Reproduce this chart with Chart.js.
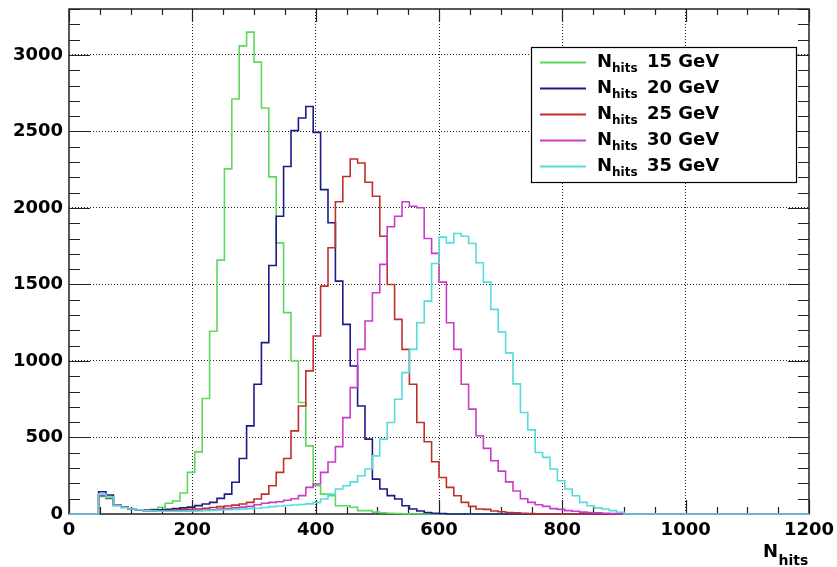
<!DOCTYPE html>
<html>
<head>
<meta charset="utf-8">
<script src="https://cdn.jsdelivr.net/npm/chart.js@4.4.1/dist/chart.umd.min.js"></script>
<style>
html,body{margin:0;padding:0;background:#fff;}
#wrap{width:837px;height:567px;}
</style>
</head>
<body>
<div id="wrap"><canvas id="chart" width="837" height="567"></canvas></div>
<script>
// histogram binning: 100 bins of width 12 from 0 to 1200
const binWidth=12;

const energies=["15 GeV","20 GeV","25 GeV","30 GeV","35 GeV"];
const colors=["#5fd85f","#1c1c86","#c0302c","#c83cc8","#55dcdc"];

const xTicks=[0,200,400,600,800,1000,1200];
const yTicks=[0,500,1000,1500,2000,2500,3000];

const h15=[
0,0,0,0,115,100,55,42,33,28,
28,30,44,70,85,137,272,406,755,1194,
1659,2255,2712,3059,3149,2953,2653,2203,1772,1316,
1000,729,445,185,130,120,54,54,44,22,
22,12,8,5,3,2,0,0,0,0,
0,0,0,0,0,0,0,0,0,0,
0,0,0,0,0,0,0,0,0,0,
0,0,0,0,0,0,0,0,0,0,
0,0,0,0,0,0,0,0,0,0,
0,0,0,0,0,0,0,0,0,0];

const h20=[
0,0,0,0,145,124,60,45,33,28,
25,25,28,30,35,40,45,55,65,76,
102,130,207,363,576,848,1120,1624,1946,2271,
2505,2588,2663,2494,2120,1903,1522,1239,967,706,
489,228,163,120,98,54,33,20,10,5,
3,0,0,0,0,0,0,0,0,0,
0,0,0,0,0,0,0,0,0,0,
0,0,0,0,0,0,0,0,0,0,
0,0,0,0,0,0,0,0,0,0,
0,0,0,0,0,0,0,0,0,0];

const h25=[
0,0,0,0,120,105,58,44,33,28,
22,20,20,22,25,28,30,33,38,42,
48,52,58,65,76,98,130,185,272,363,
543,706,935,1163,1489,1740,2040,2205,2320,2294,
2168,2076,1815,1500,1272,1076,848,598,472,341,
239,174,119,76,50,33,30,20,15,10,
8,5,3,0,0,0,0,0,0,0,
0,0,0,0,0,0,0,0,0,0,
0,0,0,0,0,0,0,0,0,0,
0,0,0,0,0,0,0,0,0,0];

const h30=[
0,0,0,0,125,108,58,44,33,28,
22,20,20,18,18,20,22,24,26,28,
32,35,40,45,50,60,70,76,80,90,
100,120,174,196,272,340,440,630,826,1076,
1261,1446,1631,1877,1946,2040,2011,2001,1800,1703,
1515,1250,1076,848,685,511,429,348,280,210,
150,100,76,60,50,35,30,22,18,12,
10,8,5,3,0,0,0,0,0,0,
0,0,0,0,0,0,0,0,0,0,
0,0,0,0,0,0,0,0,0,0];

const h35=[
0,0,0,0,130,110,55,42,33,28,
22,20,18,18,18,18,20,20,22,24,
26,28,30,32,35,38,42,48,52,56,
59,62,66,76,98,130,163,185,210,250,
294,380,489,598,750,924,1076,1250,1391,1637,
1809,1772,1833,1815,1768,1642,1515,1337,1190,1053,
850,663,550,402,370,294,217,163,119,76,
54,40,33,22,11,0,0,0,0,0,
0,0,0,0,0,0,0,0,0,0,
0,0,0,0,0,0,0,0,0,0];

const series=[h15,h20,h25,h30,h35];

// one point per bin low edge, plus the last high edge
function histPoints(counts){
const pts=counts.map((c,k)=>({x:k*binWidth,y:c}));
pts.push({x:counts.length*binWidth,y:counts[counts.length-1]});
return pts;
}

const FONT="'DejaVu Sans', sans-serif";

// ROOT-like frame, inner ticks, legend box and axis title
const rootFrame={
id:"rootFrame",
beforeDatasetsDraw(chart){
const {ctx,chartArea:a,scales}=chart;
const xs=scales.x, ys=scales.y;
ctx.save();
ctx.strokeStyle="#222";
ctx.lineWidth=1.5;
ctx.strokeRect(a.left,a.top,a.right-a.left,a.bottom-a.top);
ctx.lineWidth=1.2;
ctx.beginPath();
for(let v=0;v<=1200;v+=50){
const px=Math.round(xs.getPixelForValue(v))+0.5;
const major=v%200===0;
const lb=major?14:7, lt=major?13:6;
ctx.moveTo(px,a.bottom);ctx.lineTo(px,a.bottom-lb);
ctx.moveTo(px,a.top);ctx.lineTo(px,a.top+lt);
}
for(let v=100;v<=3300;v+=100){
const py=Math.round(ys.getPixelForValue(v))+0.5;
const major=v%500===0;
const l=major?21:11;
ctx.moveTo(a.left,py);ctx.lineTo(a.left+l,py);
ctx.moveTo(a.right,py);ctx.lineTo(a.right-l,py);
}
ctx.stroke();
ctx.restore();
},
afterDraw(chart){
const {ctx}=chart;
ctx.save();
// legend
ctx.fillStyle="#fff";
ctx.fillRect(531,47,265,135);
ctx.strokeStyle="#000";
ctx.lineWidth=1.2;
ctx.strokeRect(531.5,47.5,265,135);
ctx.textBaseline="alphabetic";
ctx.textAlign="left";
energies.forEach((e,i)=>{
const cy=62.5+i*26;
ctx.strokeStyle=colors[i];
ctx.lineWidth=2;
ctx.beginPath();ctx.moveTo(540,cy);ctx.lineTo(586,cy);ctx.stroke();
ctx.fillStyle="#000";
ctx.font="bold 18px "+FONT;
ctx.fillText("N",597,cy+4);
ctx.font="bold 12px "+FONT;
ctx.fillText("hits",612,cy+9.5);
ctx.font="bold 18px "+FONT;
ctx.fillText(e,647,cy+4);
});
// x axis title
ctx.fillStyle="#000";
ctx.font="bold 18px "+FONT;
ctx.fillText("N",763,556.5);
ctx.font="bold 14px "+FONT;
ctx.fillText("hits",778.5,565);
ctx.restore();
}
};

new Chart(document.getElementById("chart"),{
type:"line",
data:{
datasets:series.map((s,i)=>({
label:"N_hits "+energies[i],
data:histPoints(s),
borderColor:colors[i],
borderWidth:1.6,
pointRadius:0,
stepped:"before",
fill:false,
order:5-i,
clip:false
}))
},
options:{
responsive:false,
animation:false,
devicePixelRatio:1,
layout:{padding:{top:9,right:28,left:0,bottom:0}},
plugins:{legend:{display:false},tooltip:{enabled:false}},
scales:{
x:{
type:"linear",
min:0,
max:1200,
afterFit(s){s.height=53;s.paddingLeft=0;s.paddingRight=0;},
afterBuildTicks(s){s.ticks=xTicks.map(v=>({value:v}));},
ticks:{
font:{family:FONT,weight:"bold",size:18},
color:"#000",
padding:6,
maxRotation:0,
autoSkip:false,
callback:v=>String(v)
},
grid:{
drawTicks:false,
lineWidth:1,
color:c=>(c.tick&&(c.tick.value===0||c.tick.value===1200))?"rgba(0,0,0,0)":"#222"
},
border:{display:false,dash:[1,2]}
},
y:{
min:0,
max:3300,
afterFit(s){s.width=69;s.paddingTop=0;s.paddingBottom=0;},
afterBuildTicks(s){s.ticks=yTicks.map(v=>({value:v}));},
ticks:{
font:{family:FONT,weight:"bold",size:18},
color:"#000",
padding:6,
autoSkip:false,
callback:v=>String(v)
},
grid:{
drawTicks:false,
lineWidth:1,
color:c=>(c.tick&&c.tick.value===0)?"rgba(0,0,0,0)":"#222"
},
border:{display:false,dash:[1,2]}
}
}
},
plugins:[rootFrame]
});
</script>
</body>
</html>
